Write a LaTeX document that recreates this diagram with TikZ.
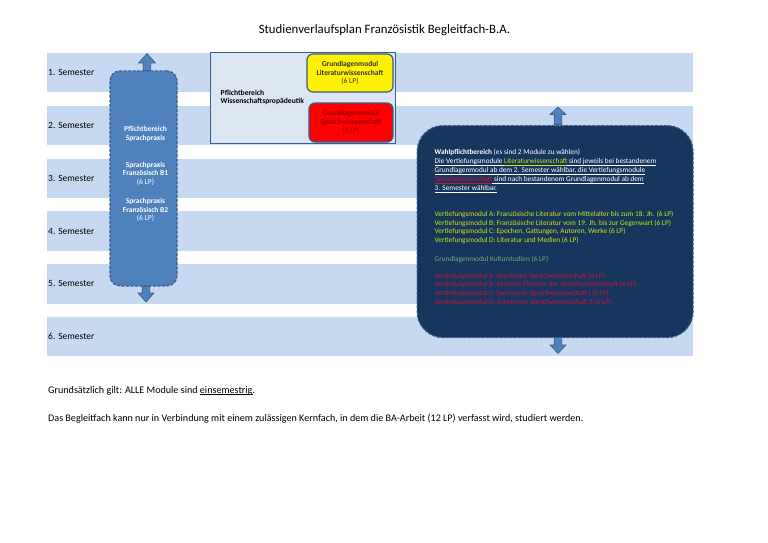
\documentclass[tikz,border=0pt]{standalone}
\usepackage{fontspec}
\setmainfont{Carlito}
\definecolor{bandc}{RGB}{198,217,241}
\definecolor{lboxc}{RGB}{79,129,189}
\definecolor{bordc}{RGB}{56,93,138}
\definecolor{navyc}{RGB}{23,54,93}
\definecolor{midc}{RGB}{220,230,242}
\definecolor{limec}{RGB}{205,228,20}
\definecolor{kultc}{RGB}{115,175,115}
\definecolor{redtc}{RGB}{205,20,50}
\definecolor{darkredc}{RGB}{150,0,0}
\newcommand{\myul}[1]{$\underline{\smash{\hbox{#1}}}$}
\tikzset{
  bandbox/.style={fill=bandc, draw=none, minimum width=646.5pt, minimum height=39.5pt, anchor=north west, inner sep=0pt},
  semlabel/.style={anchor=west, inner sep=0pt, font=\fontsize{9.5}{11}\selectfont},
  blockarrow/.style={fill=lboxc, draw=bordc, line width=0.6pt},
  rtext/.style={anchor=base west, inner sep=0pt, font=\fontsize{7.3}{8}\selectfont, text=white},
  ltext/.style={align=center, inner sep=0pt, text=white},
  modbox/.style={draw=bordc, line width=1.2pt, rounded corners=6pt, inner sep=0pt, align=center, font=\fontsize{7.5}{8.7}\selectfont\bfseries}
}
\begin{document}
\begin{tikzpicture}[x=1pt,y=-1pt]
\useasboundingbox[fill=white] (0,0) rectangle (768,543);

% title
\node[font=\fontsize{12.8}{14}\selectfont, inner sep=0pt] (title) at (384.5,30) {Studienverlaufsplan Französistik Begleitfach-B.A.};

% semester bands
\foreach \i in {1,...,6} {
  \node[bandbox] (band\i) at (46.5,{52.7+52.8*(\i-1)}) {};
  \node[semlabel] (sem\i) at ([xshift=1.5pt]band\i.west) {\i. Semester};
}

% middle box
\node[draw=bordc, fill=midc, line width=1.3pt, minimum width=185pt, minimum height=91pt, anchor=north west, inner sep=0pt] (mid) at (210,52) {};
\node[anchor=west, align=left, inner sep=0pt, font=\fontsize{7.6}{8.8}\selectfont\bfseries] (midtext) at (220.5,97.5) {Pflichtbereich\\Wissenschaftspropädeutik};
\node[modbox, fill=yellow, minimum width=86pt, minimum height=38pt, text=black!80] (lit) at (350,73) {Grundlagenmodul\\Literaturwissenschaft\\\mdseries(6 LP)};
\node[modbox, fill=red, minimum width=84pt, minimum height=39pt, text=darkredc] (spr) at (351,122.5) {Grundlagenmodul\\Sprachwissenschaft\\\mdseries(6 LP)};

% left box (Sprachpraxis)
\node[draw=bordc, fill=lboxc, dashed, dash pattern=on 3pt off 1.5pt, line width=1.2pt, rounded corners=10pt, minimum width=67pt, minimum height=215pt, inner sep=0pt] (left) at (143.5,178.4) {};
\node[ltext, font=\fontsize{7.5}{8.5}\selectfont\bfseries] (lt1) at (145.5,134) {Pflichtbereich\\Sprachpraxis};
\node[ltext, font=\fontsize{7.5}{8.6}\selectfont\bfseries] (lt2) at (145.5,173.5) {Sprachpraxis\\Französisch B1\\\mdseries(6 LP)};
\node[ltext, font=\fontsize{7.5}{8.4}\selectfont\bfseries] (lt3) at (145.5,210) {Sprachpraxis\\Französisch B2\\\mdseries(6 LP)};

% arrows of left box
\draw[blockarrow] (147,53.5) -- (155.5,63) -- (150.8,63) -- (150.8,70.5) -- (143.2,70.5) -- (143.2,63) -- (138.5,63) -- cycle;
\draw[blockarrow] (146,302) -- (154,293) -- (149.8,293) -- (149.8,286.5) -- (142.2,286.5) -- (142.2,293) -- (138,293) -- cycle;

% right box (Wahlpflichtbereich)
\node[draw=bordc, fill=navyc, dashed, dash pattern=on 3pt off 1.5pt, line width=1.2pt, rounded corners=26pt, minimum width=276pt, minimum height=212pt, anchor=north west, inner sep=0pt] (right) at (416.5,125) {};
\draw[blockarrow] (558,107) -- (566,114.5) -- (561.8,114.5) -- (561.8,124.5) -- (554.2,124.5) -- (554.2,114.5) -- (550,114.5) -- cycle;
\draw[blockarrow] (558,353.5) -- (566,345) -- (561.8,345) -- (561.8,337.5) -- (554.2,337.5) -- (554.2,345) -- (550,345) -- cycle;

% right box text
\node[rtext] (r1) at (434.5,154.5) {\textbf{Wahlpflichtbereich} (es sind 2 Module zu wählen)};
\node[rtext] (r2) at (434.5,163.5) {\myul{Die Vertiefungsmodule\ }\textcolor{limec}{\myul{Literaturwissenschaft}}\myul{\ sind jeweils bei bestandenem}};
\node[rtext] (r3) at (434.5,172.5) {\myul{Grundlagenmodul ab dem 2. Semester wählbar, die Vertiefungsmodule}};
\node[rtext] (r4) at (434.5,181.5) {\textcolor{redtc}{\myul{Sprachwissenschaft}}\myul{\ sind nach bestandenem Grundlagenmodul ab dem}};
\node[rtext] (r5) at (434.5,190.5) {\myul{3. Semester wählbar.}};

\node[rtext, text=limec] (va) at (434.5,216.5) {Vertiefungsmodul A: Französische Literatur vom Mittelalter bis zum 18. Jh. (6 LP)};
\node[rtext, text=limec] (vb) at (434.5,225.2) {Vertiefungsmodul B: Französische Literatur vom 19. Jh. bis zur Gegenwart (6 LP)};
\node[rtext, text=limec] (vc) at (434.5,233.9) {Vertiefungsmodul C: Epochen, Gattungen, Autoren, Werke (6 LP)};
\node[rtext, text=limec] (vd) at (434.5,242.6) {Vertiefungsmodul D: Literatur und Medien (6 LP)};

\node[rtext, text=kultc] (gk) at (434.5,261.5) {Grundlagenmodul Kulturstudien (6 LP)};

\node[rtext, text=redtc] (sa) at (434.5,278) {Vertiefungsmodul A: Diachrone Sprachwissenschaft (6 LP)};
\node[rtext, text=redtc] (sb) at (434.5,286.7) {Vertiefungsmodul B: Aktuelle Themen der Sprachwissenschaft (6 LP)};
\node[rtext, text=redtc] (sc) at (434.5,295.4) {Vertiefungsmodul C: Synchrone Sprachwissenschaft I (6 LP)};
\node[rtext, text=redtc] (sd) at (434.5,304.1) {Vertiefungsmodul D: Synchrone Sprachwissenschaft II (6 LP)};

% bottom notes
\node[anchor=base west, inner sep=0pt, font=\fontsize{10.1}{11}\selectfont] (note1) at (48,393) {Grundsätzlich gilt: ALLE Module sind \myul{einsemestrig}.};
\node[anchor=base west, inner sep=0pt, font=\fontsize{10.1}{11}\selectfont] (note2) at (48,421) {Das Begleitfach kann nur in Verbindung mit einem zulässigen Kernfach, in dem die BA-Arbeit (12 LP) verfasst wird, studiert werden.};
\end{tikzpicture}
\end{document}
